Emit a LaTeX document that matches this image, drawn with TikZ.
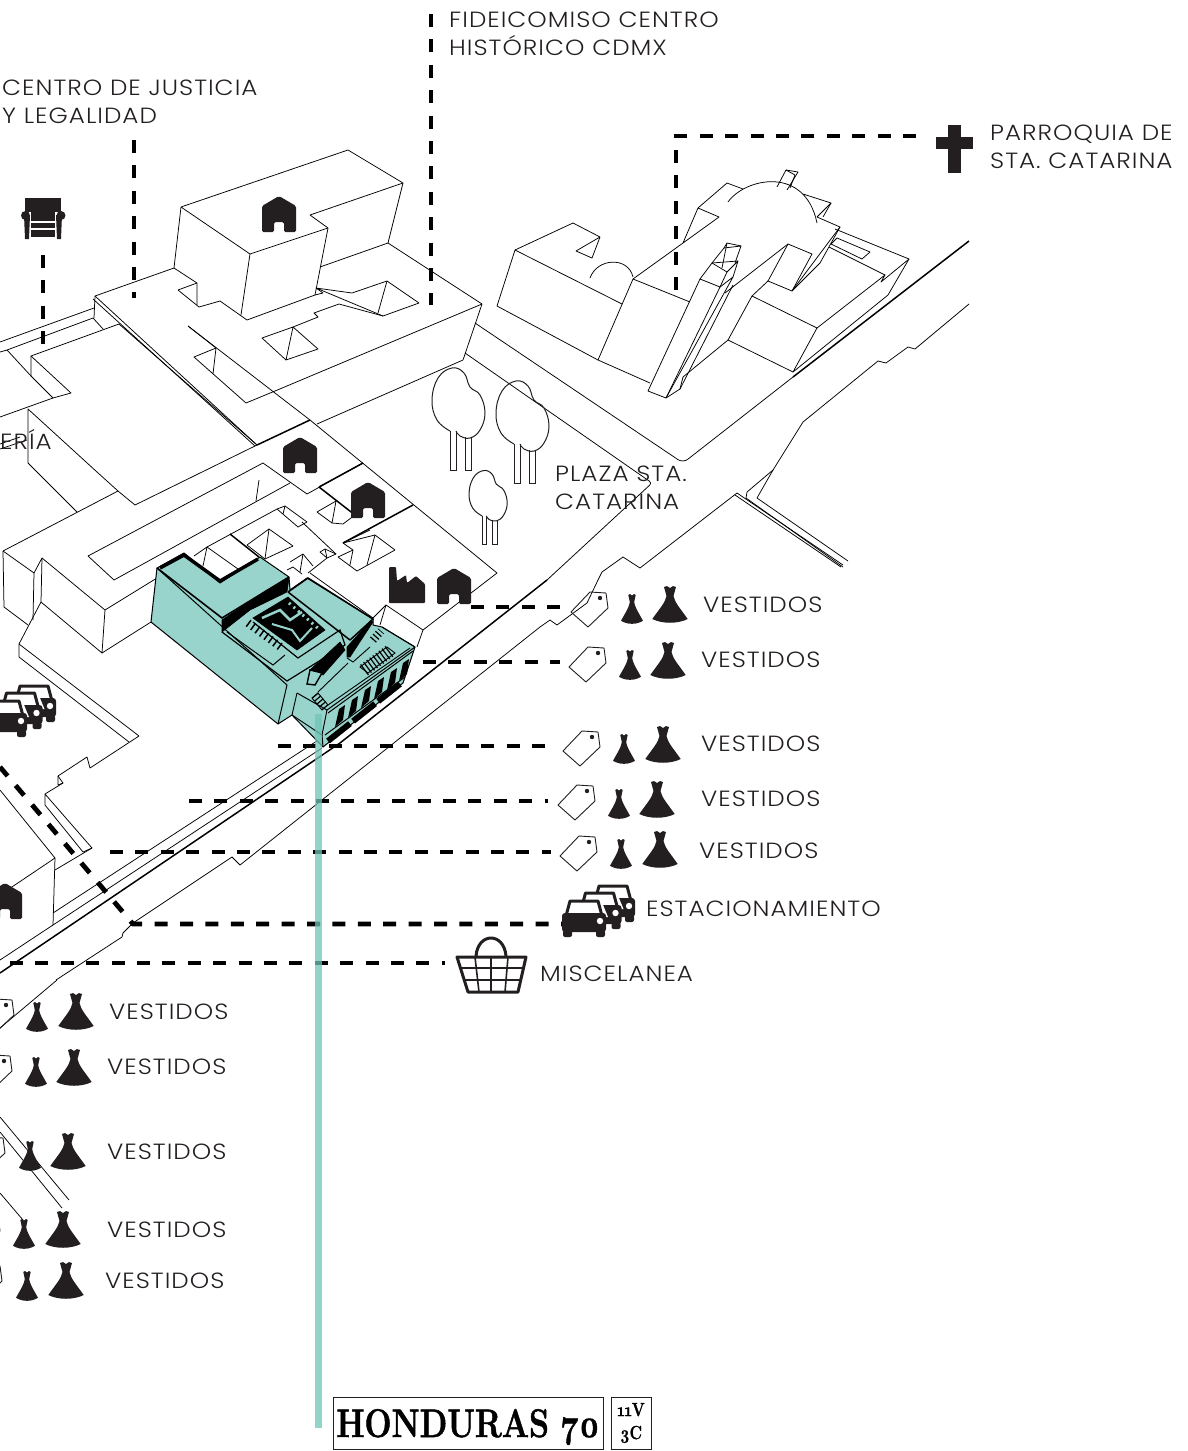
\documentclass[tikz,border=0pt]{standalone}
\usepackage{fontspec}
\setmainfont{Poppins}[UprightFont=* Light,FakeStretch=1.12,LetterSpace=4.6]
\newfontfamily\plateserif[Numbers=OldStyle,FakeStretch=.8,FakeBold=1.2]{Latin Modern Roman}
\usepackage{xcolor}
\usetikzlibrary{positioning}
\definecolor{inkblack}{HTML}{231F20}
\definecolor{tealfill}{HTML}{98D4CB}
\definecolor{tealline}{HTML}{6FC5B6}
\tikzset{
  wall/.style={draw=black,line width=0.75pt,line join=round},
  heavywall/.style={draw=black,line width=1.5pt,line join=round},
  tealwall/.style={draw=black,line width=1pt,fill=tealfill,line join=round},
  leader/.style={draw=black,line width=4.8pt,dash pattern=on 13pt off 12.4pt},
  caption/.style={anchor=west,inner sep=0pt,align=left,font=\fontsize{22}{28}\selectfont,text=inkblack},
  darkface/.style={fill=black,draw=black,line width=0.6pt},
  smalldress/.style={xscale=.62,yscale=.81},
  dressicon/.pic={
    \fill[inkblack] (-17.7,-4) .. controls (-10,-15) and (-5,-20) .. (-3.5,-27) -- (-6,-36)
      -- (-3,-37) -- (0,-35) -- (3,-37) -- (6,-36) -- (3.5,-27)
      .. controls (5,-20) and (10,-15) .. (17.7,-4) .. controls (8,1) and (-8,1) .. cycle;
  },
  tagicon/.pic={
    \draw[inkblack,line width=0.9pt,line join=round] (0,0) -- (19,-20) -- (35,-19) -- (37,-4) -- (17,15) -- cycle;
    \fill[inkblack] (29,-14) circle (2.2);
  },
  houseicon/.pic={
    \fill[inkblack,rounded corners=1.5pt,even odd rule] (-17,-8) -- (0,-18) -- (17,-8) -- (17,18) -- (5,18) -- (5,8) -- (-5,8) -- (-5,18) -- (-17,18) -- cycle;
  },
  treeicon/.pic={
    \draw[inkblack,line width=1pt] plot[smooth,tension=0.7] coordinates {(0,-39) (-13,-50) (-18,-70) (-12,-92) (2,-102) (14,-97) (20,-83) (30,-75) (35,-57) (30,-40) (20,-32) (10,-34) (6,-39)};
    \draw[inkblack,line width=1pt] (0,-39) -- (0,0) -- (6,0) -- (6,-39);
    \draw[inkblack,line width=1pt] (15,-33) -- (15,0) -- (21,0) -- (21,-33);
  },
  caricon/.pic={
    \fill[white] (-17,-37) -- (17,-37) -- (24,-20) -- (-24,-20) -- cycle;
    \draw[inkblack,line width=3pt,line join=round] (-18,-21) -- (-14,-36) -- (14,-36) -- (18,-21);
    \fill[inkblack,rounded corners=3pt] (-22,-24) -- (22,-24) -- (22,-5) -- (-22,-5) -- cycle;
    \fill[inkblack,rounded corners=2pt] (-21,-7) rectangle (-12,0);
    \fill[inkblack,rounded corners=2pt] (12,-7) rectangle (21,0);
    \fill[white] (16,-16) circle (3.2);
  },
  carsicon/.pic={
    \pic at (29,-15) {caricon};
    \pic at (15.5,-8) {caricon};
    \pic at (0,0) {caricon};
  }
}
\begin{document}
\begin{tikzpicture}[x=1pt,y=-1pt]
  \useasboundingbox (0,0) rectangle (1187,1451);
  % tall block and its base
  \draw[wall] (181,207) -- (348,150) -- (403,183) -- (310,215) -- (328,228) -- (250,254) -- cycle;
  \draw[wall] (181,207) -- (174,268) -- (95,296) -- (94,318);
  \draw[wall] (250,254) -- (241,315);
  \draw[wall] (328,228) -- (315,295);
  \draw[wall] (403,183) -- (388,243) -- (320,267);
  \draw[wall] (174,268) -- (197,283) -- (197,305);
  \draw[wall] (178,290) -- (197,283);
  \draw[wall] (178,290) -- (199,307) -- (220,301) -- (247,320) -- (315,295);
  \draw[wall] (316,288) -- (323,293) -- (315,295);
  \draw[wall] (316,288) -- (352,293) -- (387,281) -- (419,303) -- (383,316) -- cycle;
  \draw[wall] (387,281) -- (378,313);
  \draw[wall] (383,316) -- (339,304) -- (314,313) -- (318,317) -- (293,327) -- (262,338) -- (286,360) -- (318,349) -- (293,327) -- (286,360);
  \draw[wall] (388,243) -- (482,304) -- (463,360) -- (317,424);
  \draw[wall] (482,304) -- (275,391) -- (246,403) -- (194,357) -- (216,348) -- (213,374);
  \draw[wall] (216,348) -- (188,326);
  \draw[wall] (188,326) -- (310,420) -- (497,573) -- (423,630);
  \draw[wall] (95,296) -- (257,445);
  \draw[wall] (93,299) -- (255,446);
  \draw[heavywall] (257,445) -- (310,420);
  \draw[wall] (257,445) -- (135,505) -- (118,491) -- (3,551);
  \draw[wall] (118,491) -- (97,472) -- (28,409) -- (28,463) -- (77,512);
  \draw[wall] (0,417) -- (53,398) -- (71,393) -- (31,356) -- (119,324) -- (257,445);
  \draw[wall] (31,356) -- (31,376) -- (53,398);
  \draw[wall] (31,376) -- (7,350) -- (93,318) -- (103,329);
  \draw[wall] (0,342) -- (94,308);
  \draw[wall] (7,350) -- (0,352);
  \draw[wall] (0,449) -- (27,440);
  \draw[wall] (0,444) -- (20,437);
  % low block behind the shop
  \draw[wall] (88,556) -- (263,463) -- (307,494) -- (363,463);
  \draw[wall] (88,556) -- (114,580) -- (290,483);
  \draw[wall] (259,480) -- (256,501);
  \draw[heavywall] (319,487) -- (363,463);
  \draw[heavywall] (319,487) -- (355,515);
  \draw[wall] (317,512) -- (336,501) -- (332,523) -- cycle;
  \draw[wall] (332,523) -- (343,524) -- (355,515);
  \draw[heavywall] (343,543) -- (413,505);
  \draw[wall] (207,547) -- (277,509) -- (285,506) -- (307,522) -- (298,527) -- (277,509);
  \draw[wall] (285,506) -- (283,514);
  \draw[wall] (194,556) -- (207,547) -- (203,566);
  \draw[wall] (207,547) -- (238,569);
  \draw[heavywall] (230,534) -- (259,557);
  \draw[wall] (247,545) -- (269,529) -- (293,546) -- (265,559) -- cycle;
  \draw[wall] (269,529) -- (265,559);
  \draw[wall] (302,522) -- (336,554);
  \draw[wall] (320,552) -- (325,549) -- (336,554) -- (327,558) -- cycle;
  \draw[wall] (325,549) -- (327,558);
  \draw[wall] (308,573) -- (327,558);
  \draw[wall] (290,562) -- (303,554) -- (313,566);
  \draw[wall] (303,554) -- (300,572);
  \draw[wall] (287,570) -- (293,567) -- (302,574);
  \draw[wall] (343,543) -- (370,530);
  \draw[wall] (353,550) -- (338,557) -- (357,571) -- (395,550) -- (375,535) -- (343,543) -- cycle;
  \draw[wall] (375,535) -- (367,565);
  \draw[wall] (353,550) -- (350,565);
  \draw[wall] (310,573) -- (373,618) -- (386,605) -- (423,630) -- (417,647);
  \draw[wall] (386,605) -- (380,625);
  % blocks on the left edge
  \draw[wall] (3,551) -- (4,607) -- (28,625);
  \draw[wall] (3,551) -- (34,573) -- (33,620);
  \draw[wall] (34,573) -- (42,558) -- (41,602) -- (19,644) -- (19,657);
  \draw[wall] (42,558) -- (105,610) -- (102,653) -- (41,602);
  \draw[wall] (105,610) -- (157,578);
  \draw[wall] (102,653) -- (151,622);
  \draw[wall] (19,644) -- (139,736) -- (90,768) -- (87,757) -- (58,776) -- (63,783) -- (45,794) -- (45,805) -- (83,852) -- (92,848) -- (45,794);
  \draw[wall] (19,657) -- (129,742);
  \draw[wall] (58,776) -- (58,785) -- (63,783);
  \draw[wall] (0,790) -- (55,858) -- (53,925);
  \draw[wall] (55,870) -- (92,848);
  \draw[wall] (0,895) -- (55,858);
  % roads
  \draw[wall] (53,913) -- (323,737);
  \draw[wall] (53,925) -- (322,748);
  \draw[wall] (0,960) -- (53,925);
  \draw[heavywall] (0,973) -- (340,743) -- (547,580);
  \draw[heavywall] (793,377) -- (969,241);
  \draw[wall] (56,980) -- (122,937) -- (123,933) -- (133,923) -- (232,857) -- (240,865) -- (540,627) -- (550,620) -- (557,625) -- (587,603) -- (598,580) -- (602,572) -- (623,557) -- (640,568) -- (737,493) -- (843,565);
  \draw[wall] (735,495) -- (841,567);
  \draw[wall] (969,304) -- (915,349) -- (908,347) -- (886,363) -- (878,361) -- (803,422) -- (773,470) -- (747,492) -- (746,498) -- (843,567);
  \draw[wall] (773,470) -- (757,498) -- (848,561);
  \draw[wall] (0,1028) -- (57,980);
  \draw[wall] (0,1117) -- (69,1200);
  \draw[wall] (0,1132) -- (62,1208);
  \draw[wall] (0,1193) -- (23,1220);
  % plaza edges
  \draw[wall,rounded corners=6pt] (475,323) -- (683,463) -- (793,377);
  \draw[wall,rounded corners=3pt] (465,353) -- (652,483) -- (547,580);
  % church
  \draw[wall] (515,250) -- (573,223) -- (600,237) -- (576,251) -- (592,258) -- (600,237);
  \draw[wall] (515,250) -- (622,304);
  \draw[wall] (515,250) -- (497,306) -- (598,360) -- (650,383);
  \draw[wall] (590,278) .. controls (597,258) and (628,256) .. (633,277);
  \draw[wall] (633,279) -- (598,360);
  \draw[wall] (633,279) -- (690,302);
  \draw[wall] (633,279) -- (683,243) -- (719,217) -- (698,208) -- (683,243);
  \draw[wall] (698,208) -- (727,183) -- (743,189);
  \draw[wall] (728,202) .. controls (745,178) and (805,165) .. (817,223);
  \draw[wall] (803,194) -- (831,203) -- (817,217);
  \draw[wall] (831,203) -- (823,217);
  \draw[wall] (777,187) -- (786,170) -- (798,172) -- (787,190);
  \draw[wall] (786,170) -- (795,175) -- (790,188);
  \draw[wall] (817,217) -- (840,227) -- (792,291) -- (768,281) -- (752,296) -- (728,340) -- (683,377);
  \draw[wall] (840,227) -- (820,263) -- (792,291);
  \draw[wall] (788,244) -- (812,254) -- (792,291);
  \draw[wall] (788,244) -- (768,281);
  \draw[wall] (788,244) -- (725,293);
  \draw[wall] (835,229) -- (909,259) -- (888,295) -- (793,372) -- (817,328) -- (752,296);
  \draw[wall] (817,328) -- (885,275) -- (881,282) -- (909,259);
  \draw[wall] (837,238) -- (870,252) -- (862,259) -- (831,244) -- cycle;
  \draw[wall] (829,247) -- (885,275);
  \draw[wall] (793,372) -- (728,340);
  \draw[wall] (648,391) -- (700,279) -- (720,287) -- (666,398) -- cycle;
  \draw[wall] (666,398) -- (733,277) -- (720,287);
  \draw[wall] (666,398) -- (680,389) -- (683,377);
  \draw[wall] (680,389) -- (733,285);
  \draw[wall] (700,279) -- (712,263) -- (727,272) -- (720,287);
  \draw[wall] (727,272) -- (738,261) -- (733,277);
  \draw[wall] (712,263) -- (724,248) -- (741,246) -- (735,263);
  \draw[wall] (724,248) -- (727,243) -- (741,246);
  \draw[wall] (727,243) -- (722,268);
  \draw[wall] (712,263) -- (738,261);
  % the shop itself
  \draw[tealwall] (157,568) -- (184,553) -- (220,583) -- (260,557) -- (289,577) -- (290,590) -- (307,578) -- (373,619) -- (373,625) -- (382,627) -- (415,647) -- (403,683) -- (323,747) -- (292,715) -- (278,724) -- (151,622) -- cycle;
  \draw[line width=1.6pt] (157,568) -- (222,618) -- (289,577);
  \draw[line width=1pt] (157,568) -- (287,685) -- (278,724);
  \draw[line width=3.5pt] (160,568) -- (184,555) -- (220,581) -- (258,559);
  \draw[darkface] (222,620) -- (267,590) -- (289,578) -- (287,592) -- (250,610) -- (222,632) -- cycle;
  \draw[line width=1pt] (227,632) -- (273,665) -- (285,655);
  \draw[line width=1.2pt] (222,632) -- (287,681) -- (345,645) -- (340,630) -- (298,658) -- (253,622);
  \draw[darkface] (288,597) -- (325,630) -- (297,650) -- (253,618) -- cycle;
  \draw[tealfill,line width=2.5pt] (262,618) -- (280,610) -- (290,620) -- (302,612);
  \draw[tealfill,line width=2pt] (272,624) -- (292,630) -- (300,641) -- (312,628);
  \draw[tealfill,line width=3pt,dash pattern=on 2pt off 4pt] (289,603) -- (320,630);
  \draw[line width=8pt,dash pattern=on 1.5pt off 4pt] (248,623) -- (282,648);
  \draw[line width=1.5pt] (288,592) -- (308,578) -- (373,619) -- (350,640);
  \draw[line width=1.5pt] (288,592) -- (350,640);
  \draw[darkface] (373,622) -- (350,657) -- (347,657) -- (347,647) -- (371,620) -- cycle;
  \draw[darkface] (345,650) -- (323,675) -- (310,670) -- (340,642) -- cycle;
  \draw[line width=1.4pt,fill=tealfill] (310,670) -- (322,673) -- (315,685) -- (307,684) -- cycle;
  \draw[line width=0.9pt] (318,692) -- (348,663);
  \draw[line width=0.9pt] (347,658) -- (353,662) -- (370,647);
  \draw[line width=0.9pt] (382,627) -- (415,647);
  \draw[line width=1pt] (297,693) -- (327,710) -- (415,647);
  \draw[line width=0.9pt] (297,693) -- (292,715) -- (322,735) -- (327,710);
  \draw[line width=0.9pt] (328,705) -- (410,648);
  \draw[line width=0.9pt] (312,698) -- (318,693) -- (328,705) -- (322,710) -- cycle;
  \draw[line width=0.9pt] (360,667) -- (387,647) -- (395,653) -- (368,673) -- cycle;
  \draw[line width=13pt,dash pattern=on 1.2pt off 2.6pt] (364,670) -- (391,650);
  \draw[line width=8pt,dash pattern=on 1.2pt off 2.6pt] (315,695) -- (325,707);
  \draw[line width=8pt,dash pattern=on 1.2pt off 2.6pt] (373,640) -- (381,631);
  \draw[line width=1pt] (322,735) -- (323,747);
  \draw[line width=1pt] (328,713) -- (413,651);
  \draw[line width=1pt] (325,735) -- (405,677);
  \fill[black] (335,727) -- (343,720) -- (345,705) -- (339,709) -- cycle;
  \fill[black] (348,718) -- (356,711) -- (358,696) -- (352,700) -- cycle;
  \fill[black] (361,708) -- (369,701) -- (371,686) -- (365,690) -- cycle;
  \fill[black] (374,699) -- (382,692) -- (384,677) -- (378,681) -- cycle;
  \fill[black] (387,690) -- (395,683) -- (397,668) -- (391,672) -- cycle;
  \fill[black] (399,681) -- (407,674) -- (409,659) -- (403,663) -- cycle;
  \draw[line width=6pt,dash pattern=on 28pt off 4pt] (328,741) -- (400,684);
  % trees
  \pic at (450,470) {treeicon};
  \pic at (514,483) {treeicon};
  \pic[scale=.72] at (482,544) {treeicon};
  % icons on the blocks
  \pic at (279,214) {houseicon};
  \pic at (300,455) {houseicon};
  \pic at (368,500) {houseicon};
  \pic at (454,586) {houseicon};
  \pic at (5,901) {houseicon};
  \fill[inkblack,rounded corners=1pt] (389,603) -- (389,567) -- (396,567) -- (397,581) -- (406,575) -- (407,583) -- (416,576) -- (425,584) -- (425,603) -- cycle;
  % armchair
  \fill[inkblack] (25,198) rectangle (61,212);
  \fill[inkblack] (31,212) rectangle (55,237);
  \fill[inkblack] (25.5,215.5) circle (4.5);
  \fill[inkblack] (61,215.5) circle (4.5);
  \fill[inkblack] (24,215) -- (30,215) -- (29,239) -- (25,239) -- cycle;
  \fill[inkblack] (56,215) -- (62,215) -- (61,239) -- (57,239) -- cycle;
  \fill[white] (30,219) rectangle (31.2,236);
  \fill[white] (54.8,219) rectangle (56,236);
  \fill[white] (31,221) rectangle (55,222.5);
  \fill[white] (31,228) rectangle (55,229.5);
  % cross
  \fill[inkblack] (948,125) rectangle (961,173);
  \fill[inkblack] (936,137) rectangle (973,149);
  % leader ends
  \coordinate (justiciaTop) at (134,140);
  \coordinate (justiciaBase) at (134,298);
  \coordinate (fideicomisoTop) at (431,14);
  \coordinate (fideicomisoBase) at (431,305);
  \coordinate (muebleTop) at (43,255);
  \coordinate (muebleBase) at (43,345);
  \coordinate (crossEnd) at (916,136);
  \coordinate (churchCorner) at (676,136);
  \coordinate (churchBase) at (676,292);
  \coordinate (rowOneStart) at (471,607);
  \coordinate (rowOneEnd) at (560,607);
  \coordinate (rowTwoStart) at (423,662);
  \coordinate (rowTwoEnd) at (560,662);
  \coordinate (rowThreeStart) at (278,746);
  \coordinate (rowThreeEnd) at (550,746);
  \coordinate (rowFourStart) at (189,801);
  \coordinate (rowFourEnd) at (548,801);
  \coordinate (rowFiveStart) at (110,852);
  \coordinate (rowFiveEnd) at (551,852);
  \coordinate (parkingBend) at (133,924);
  \coordinate (parkingEnd) at (574,924);
  \coordinate (parkingFar) at (0,767);
  \coordinate (basketStart) at (10,963);
  \coordinate (basketEnd) at (445,963);
  \draw[leader] (justiciaTop) -- (justiciaBase);
  \draw[leader] (fideicomisoTop) -- (fideicomisoBase);
  \draw[leader] (muebleTop) -- (muebleBase);
  \draw[leader] (crossEnd) -- (churchCorner) -- (churchBase);
  \draw[leader] (rowOneStart) -- (rowOneEnd);
  \draw[leader] (rowTwoStart) -- (rowTwoEnd);
  \draw[leader] (rowThreeStart) -- (rowThreeEnd);
  \draw[leader] (rowFourStart) -- (rowFourEnd);
  \draw[leader] (rowFiveStart) -- (rowFiveEnd);
  \draw[leader] (parkingEnd) -- (parkingBend) -- (parkingFar);
  \draw[leader] (basketStart) -- (basketEnd);
  % tags and dresses
  \pic at (571,612) {tagicon};
  \pic[smalldress] at (632,624) {dressicon};
  \pic at (670,623) {dressicon};
  \pic at (569,667) {tagicon};
  \pic[smalldress] at (630,680) {dressicon};
  \pic at (668,679) {dressicon};
  \pic at (563,751) {tagicon};
  \pic[smalldress] at (624,764) {dressicon};
  \pic at (663,763) {dressicon};
  \pic at (558,805) {tagicon};
  \pic[smalldress] at (619,819) {dressicon};
  \pic at (657,818) {dressicon};
  \pic at (560,856) {tagicon};
  \pic[smalldress] at (621,869) {dressicon};
  \pic at (660,868) {dressicon};
  \pic at (-23,1019) {tagicon};
  \pic[smalldress] at (37,1032) {dressicon};
  \pic at (76,1030) {dressicon};
  \pic at (-25,1075) {tagicon};
  \pic[smalldress] at (36,1087) {dressicon};
  \pic at (74,1086) {dressicon};
  \pic at (-32,1157) {tagicon};
  \pic[smalldress] at (30,1171) {dressicon};
  \pic at (68,1170) {dressicon};
  \pic at (-37,1235) {tagicon};
  \pic[smalldress] at (24,1249) {dressicon};
  \pic at (63,1248) {dressicon};
  \pic at (-35,1285) {tagicon};
  \pic[smalldress] at (27,1301) {dressicon};
  \pic at (66,1299) {dressicon};
  % cars
  \pic at (584,937) {carsicon};
  \pic at (5,737) {carsicon};
  % basket
  \draw[inkblack,line width=3pt,line join=round] (476,956) .. controls (478,932) and (504,932) .. (506,956);
  \draw[inkblack,line width=3pt,line join=round] (457,957) -- (526,957) -- (518,992) -- (468,992) -- cycle;
  \draw[inkblack,line width=1.6pt] (460,968) -- (523,968);
  \draw[inkblack,line width=1.6pt] (464,980) -- (520,980);
  \draw[inkblack,line width=1.6pt] (475,957) -- (479,992);
  \draw[inkblack,line width=1.6pt] (491,957) -- (491,992);
  \draw[inkblack,line width=1.6pt] (508,957) -- (505,992);
  % texts
  \node[caption] (fideicomiso) at (449,34) {FIDEICOMISO CENTRO\\HISTÓRICO CDMX};
  \node[caption] (justicia) at (2,102) {CENTRO DE JUSTICIA\\Y LEGALIDAD};
  \node[caption] (parroquia) at (990,147) {PARROQUIA DE\\STA. CATARINA};
  \node[caption] (plaza) at (555,488) {PLAZA STA.\\CATARINA};
  \node[caption,anchor=east] (eria) at (52,439) {ERÍA};
  \node[caption] (vestidosA) at (703,605) {VESTIDOS};
  \node[caption] (vestidosB) at (701,660) {VESTIDOS};
  \node[caption] (vestidosC) at (701,744) {VESTIDOS};
  \node[caption] (vestidosD) at (701,799) {VESTIDOS};
  \node[caption] (vestidosE) at (699,851) {VESTIDOS};
  \node[caption] (estacionamiento) at (646,909) {ESTACIONAMIENTO};
  \node[caption] (miscelanea) at (540,974) {MISCELANEA};
  \node[caption] (vestidosF) at (109,1012) {VESTIDOS};
  \node[caption] (vestidosG) at (107,1067) {VESTIDOS};
  \node[caption] (vestidosH) at (107,1152) {VESTIDOS};
  \node[caption] (vestidosI) at (107,1230) {VESTIDOS};
  \node[caption] (vestidosJ) at (105,1281) {VESTIDOS};
  % teal drop line and name plate
  \coordinate (dropTop) at (318,714);
  \coordinate (dropBase) at (318,1428);
  \draw[tealline,line width=7pt,opacity=.75] (dropTop) -- (dropBase);
  \node[draw=inkblack,line width=0.8pt,minimum width=270pt,minimum height=52pt,inner sep=0pt,text height=28pt,text depth=0pt,font=\plateserif\bfseries\fontsize{40}{40}\selectfont] (plate) at (468,1423) {HONDURAS 70};
  \node[draw=inkblack,line width=0.8pt,minimum width=40pt,minimum height=52pt,inner sep=0pt,align=center,font=\plateserif\bfseries\fontsize{19}{23}\selectfont] (platesmall) at (631,1423) {11V\\3C};
\end{tikzpicture}
\end{document}
